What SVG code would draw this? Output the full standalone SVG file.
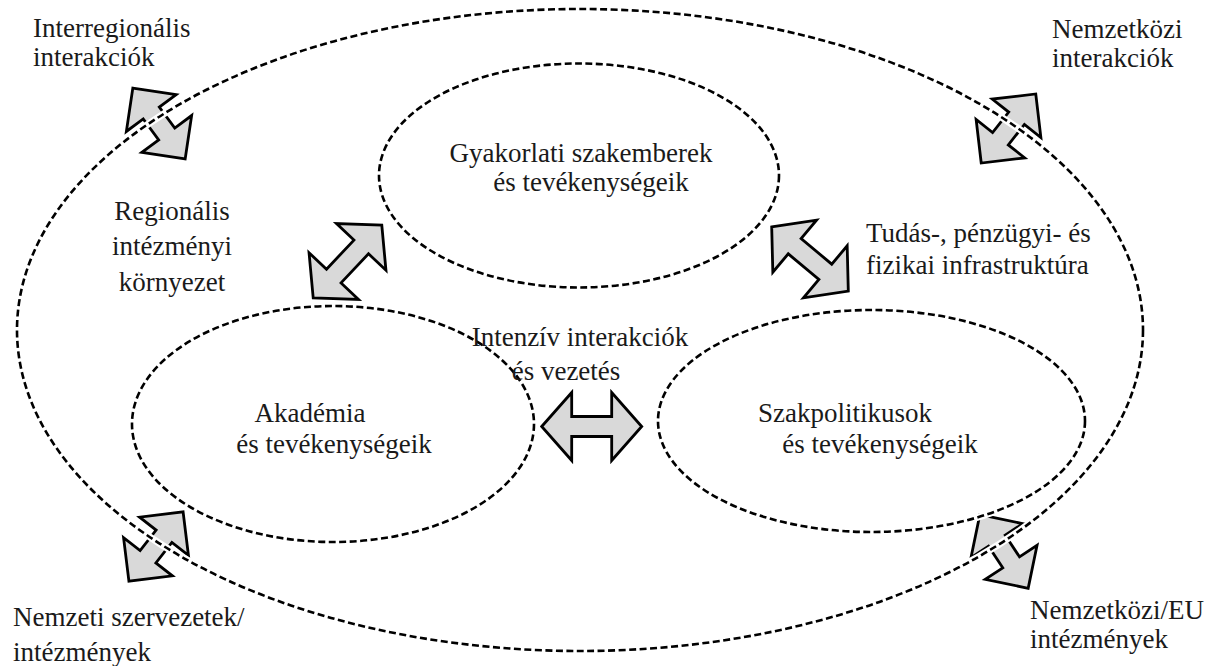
<svg xmlns="http://www.w3.org/2000/svg" xmlns:xlink="http://www.w3.org/1999/xlink" width="1231" height="666" viewBox="0 0 1231 666">
<style>
  .lbl { font-family: "Liberation Serif", "Times New Roman", serif; font-size: 27px; fill: #1a1a1a; }
  .mid { text-anchor: middle; }
  .halo { fill: none; stroke: #ffffff; stroke-width: 7; }
  .dash { fill: none; stroke: #000000; stroke-width: 2.6; stroke-dasharray: 7 3.5; }
  .arrow { fill: #d9d9d9; stroke: #000000; stroke-width: 2.8; stroke-linejoin: miter; }
</style>
<defs>
  <polygon id="arrS" points="-44,0 -13,-31 -13,-10 13,-10 13,-31 44,0 13,31 13,10 -13,10 -13,31"/>
  <polygon id="arrL" points="-50,0 -20,-34 -20,-10 20,-10 20,-34 50,0 20,34 20,10 -20,10 -20,34"/>
</defs>
<rect width="1231" height="666" fill="#ffffff"/>

<g id="connectors">
  <use href="#arrS" class="arrow" transform="translate(159,123.5) rotate(53.5)"/>
  <use href="#arrS" class="arrow" transform="translate(1008.5,128.5) rotate(-51.7)"/>
  <use href="#arrS" class="arrow" transform="translate(156,546.5) rotate(-52)"/>
  <use href="#arrS" class="arrow" transform="translate(1004,551.5) rotate(56.7)"/>
  <use href="#arrL" class="arrow" transform="translate(347.5,261.5) rotate(-46.7)"/>
  <use href="#arrL" class="arrow" transform="translate(810,259) rotate(40)"/>
  <use href="#arrL" class="arrow" transform="translate(591.7,426.5)"/>
</g>

<g id="outer">
  <ellipse class="halo" cx="580" cy="330" rx="563" ry="321"/>
  <ellipse class="dash" cx="580" cy="330" rx="563" ry="321"/>
</g>

<g id="node-gyakorlati">
  <ellipse class="halo" cx="579" cy="175.5" rx="200" ry="112"/>
  <ellipse class="dash" cx="579" cy="175.5" rx="200" ry="112"/>
  <text class="lbl mid" x="581" y="162">Gyakorlati szakemberek</text>
  <text class="lbl mid" x="591" y="191">és tevékenységeik</text>
</g>

<g id="node-akademia">
  <ellipse class="halo" cx="333" cy="424" rx="201" ry="118"/>
  <ellipse class="dash" cx="333" cy="424" rx="201" ry="118"/>
  <text class="lbl mid" x="310" y="422">Akadémia</text>
  <text class="lbl mid" x="334" y="453">és tevékenységeik</text>
</g>

<g id="node-szakpolitikusok">
  <ellipse class="halo" cx="871.5" cy="421" rx="213.5" ry="111"/>
  <ellipse class="dash" cx="871.5" cy="421" rx="213.5" ry="111"/>
  <text class="lbl mid" x="845" y="422">Szakpolitikusok</text>
  <text class="lbl mid" x="880" y="453">és tevékenységeik</text>
</g>

<g id="labels">
  <text class="lbl" x="33" y="37">Interregionális</text>
  <text class="lbl" x="33" y="66">interakciók</text>
  <text class="lbl" x="1052" y="38">Nemzetközi</text>
  <text class="lbl" x="1052" y="67">interakciók</text>
  <text class="lbl mid" x="172" y="220">Regionális</text>
  <text class="lbl mid" x="172" y="255">intézményi</text>
  <text class="lbl mid" x="172" y="291">környezet</text>
  <text class="lbl" x="866" y="242">Tudás-, pénzügyi- és</text>
  <text class="lbl" x="866" y="274">fizikai infrastruktúra</text>
  <text class="lbl mid" x="580" y="346">Intenzív interakciók</text>
  <text class="lbl mid" x="566" y="380">és vezetés</text>
  <text class="lbl" x="13" y="626">Nemzeti szervezetek/</text>
  <text class="lbl" x="13" y="661">intézmények</text>
  <text class="lbl" x="1030" y="619">Nemzetközi/EU</text>
  <text class="lbl" x="1030" y="648">intézmények</text>
</g>
</svg>
